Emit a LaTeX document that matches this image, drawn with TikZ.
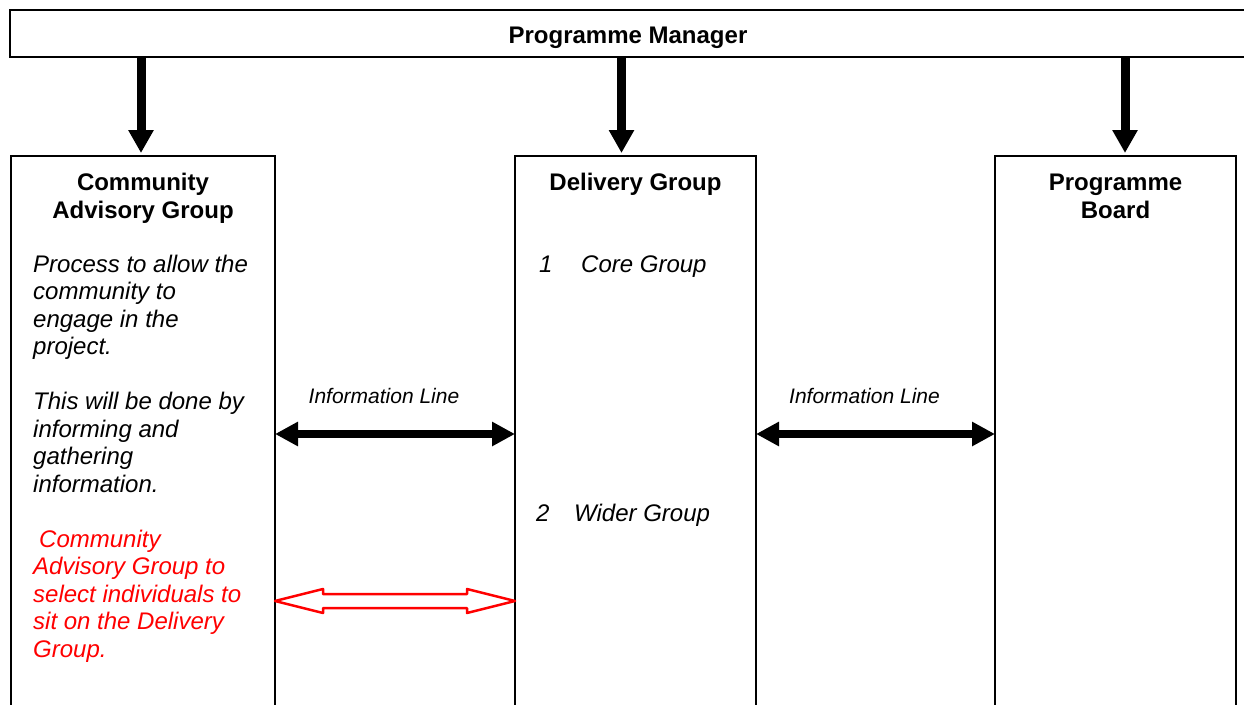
\documentclass[tikz,border=0pt]{standalone}
\usepackage{fontspec}
\setmainfont{Liberation Sans}
\usetikzlibrary{arrows.meta, positioning, calc}

\tikzset{
    panel/.style={draw, line width=2pt, outer sep=0pt, inner sep=0pt, anchor=north west, minimum height=600pt},
    heading/.style={font=\fontsize{24}{28}\selectfont\bfseries, align=center, inner sep=0pt, anchor=base},
    bodytext/.style={font=\fontsize{24}{27.5}\selectfont\itshape, align=left, inner sep=0pt, anchor=base west},
    infotext/.style={font=\fontsize{21}{25}\selectfont\itshape, inner sep=0pt, anchor=base},
    downarrow/.style={line width=9pt, -{Triangle[width=24pt,length=23pt]}, shorten >=3pt},
    infoarrow/.style={line width=8pt, {Triangle[width=23pt,length=23pt]}-{Triangle[width=23pt,length=23pt]}},
}

\begin{document}
\begin{tikzpicture}[x=1pt, y=-1pt]
    \useasboundingbox (0,0) rectangle (1244,704);

    % Draw manager bar
    \node[panel, minimum width=1236pt, minimum height=47pt, text height=24pt, text depth=5pt,
          font=\fontsize{24}{28}\selectfont\bfseries, anchor=north west] (pm) at (10,10) {Programme Manager};

    % Draw the three groups
    \node[panel, minimum width=264pt] (cag) at (11,156) {};
    \node[panel, minimum width=241pt] (dg) at (515,156) {};
    \node[panel, minimum width=241pt] (pb) at (995,156) {};

    % Add group titles (base = last line)
    \node[heading] (cagtitle) at ([yshift=-62pt]cag.north) {Community\\Advisory Group};
    \node[heading] (dgtitle) at ([yshift=-34pt]dg.north) {Delivery Group};
    \node[heading] (pbtitle) at ([yshift=-62pt]pb.north) {Programme\\Board};

    % Add group texts
    \node[bodytext] (cagtext) at ([xshift=22pt,yshift=-336pt]cag.north west)
        {Process to allow the\\community to\\engage in the\\project.\\[27.5pt]This will be done by\\informing and\\gathering\\information.};
    \node[bodytext, text=red] (cagnote) at ([xshift=22pt,yshift=-501pt]cag.north west)
        {\hspace*{6pt}Community\\Advisory Group to\\select individuals to\\sit on the Delivery\\Group.};
    \node[bodytext] (core) at ([xshift=24pt,yshift=-116pt]dg.north west) {\makebox[42pt][l]{1}Core Group};
    \node[bodytext] (wider) at ([xshift=21pt,yshift=-365pt]dg.north west) {\makebox[38pt][l]{2}Wider Group};

    % Draw arrows from the manager
    \coordinate (cagin) at ([xshift=-2pt]cag.north);
    \coordinate (dgin) at ([xshift=-14pt]dg.north);
    \coordinate (pbin) at ([xshift=9.5pt]pb.north);
    \draw[downarrow] (pm.south -| cagin) -- (cagin);
    \draw[downarrow] (pm.south -| dgin) -- (dgin);
    \draw[downarrow] (pm.south -| pbin) -- (pbin);

    % Draw information lines
    \node[infotext] (infoleft) at ([xshift=109pt,yshift=-247pt]cag.north east) {Information Line};
    \node[infotext] (inforight) at ([xshift=108.5pt,yshift=-247pt]dg.north east) {Information Line};
    \draw[infoarrow] ([yshift=-278pt]cag.north east) -- ([yshift=-278pt]dg.north west);
    \draw[infoarrow] ([yshift=-278pt]dg.north east) -- ([yshift=-278pt]pb.north west);

    % Draw hollow selection arrow
    \coordinate (ra) at ([yshift=-445pt]cag.north east);
    \coordinate (rb) at ([yshift=-445pt]dg.north west);
    \draw[red, line width=2.5pt, line join=round] (ra) -- ++(48,-12) -- ++(0,5) -- ($(rb)+(-48,-7)$) -- ++(0,-5) -- (rb)
        -- ++(-48,12) -- ++(0,-5) -- ($(ra)+(48,7)$) -- ++(0,5) -- cycle;
\end{tikzpicture}
\end{document}
